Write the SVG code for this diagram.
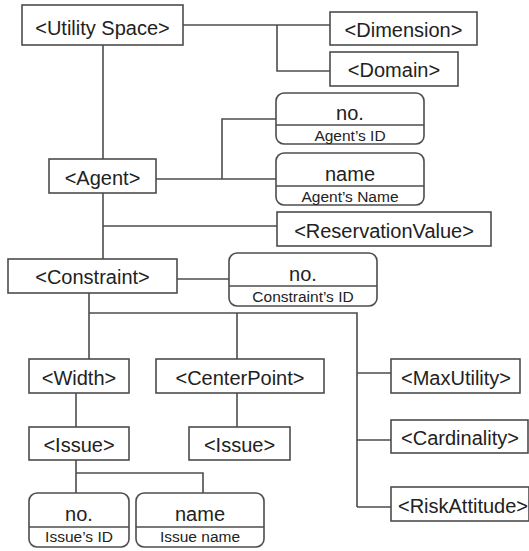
<svg xmlns="http://www.w3.org/2000/svg" width="529" height="551" viewBox="0 0 529 551">
<style>
.box{fill:#fff;stroke:#4d4d4d;stroke-width:1.6}
.ln{fill:none;stroke:#4d4d4d;stroke-width:1.6}
.t{font-family:"Liberation Sans",Arial,sans-serif;font-size:20px;fill:#222;text-anchor:middle}
.s{font-family:"Liberation Sans",Arial,sans-serif;font-size:15.5px;fill:#222;text-anchor:middle}
</style>
<rect width="529" height="551" fill="#fff"/>
<g id="connectors" class="ln">
<path d="M183,25H330M277,25V71H330"/>
<path d="M103,45V159"/>
<path d="M156,179H277M222,179V119H277"/>
<path d="M103,193V259M103,226H277"/>
<path d="M177,279H229"/>
<path d="M89,293V359M89,313H357V507M237,313V359M357,373H391M357,440H391M357,507H391"/>
<path d="M76,393V427"/>
<path d="M237,393V427"/>
<path d="M76,460V493M76,473H203V493"/>
</g>
<g id="utility-space"><rect class="box" x="22" y="5" width="161" height="40"/><text class="t" x="102.5" y="34.5">&lt;Utility Space&gt;</text></g>
<g id="dimension"><rect class="box" x="330" y="12" width="147" height="33"/><text class="t" x="403.5" y="36.5">&lt;Dimension&gt;</text></g>
<g id="domain"><rect class="box" x="330" y="52" width="128" height="34"/><text class="t" x="394" y="77">&lt;Domain&gt;</text></g>
<g id="agent-id"><rect class="box" x="276" y="93" width="148" height="51" rx="8"/><path class="ln" d="M276,125H424"/><text class="t" x="350" y="120">no.</text><text class="s" x="350" y="141">Agent’s ID</text></g>
<g id="agent-name"><rect class="box" x="276" y="153" width="148" height="52" rx="8"/><path class="ln" d="M276,186H424"/><text class="t" x="350" y="181">name</text><text class="s" x="350" y="201.5">Agent’s Name</text></g>
<g id="agent"><rect class="box" x="49" y="159" width="107" height="34"/><text class="t" x="102.5" y="184.5">&lt;Agent&gt;</text></g>
<g id="reservation-value"><rect class="box" x="277" y="212" width="214" height="34"/><text class="t" x="384" y="237.5">&lt;ReservationValue&gt;</text></g>
<g id="constraint"><rect class="box" x="8" y="259" width="169" height="34"/><text class="t" x="92.5" y="284">&lt;Constraint&gt;</text></g>
<g id="constraint-id"><rect class="box" x="229" y="253" width="148" height="53" rx="8"/><path class="ln" d="M229,286H377"/><text class="t" x="303" y="281">no.</text><text class="s" x="303" y="302">Constraint’s ID</text></g>
<g id="width"><rect class="box" x="29" y="359" width="100" height="34"/><text class="t" x="79" y="384.5">&lt;Width&gt;</text></g>
<g id="centerpoint"><rect class="box" x="156" y="359" width="168" height="34"/><text class="t" x="240" y="384.5">&lt;CenterPoint&gt;</text></g>
<g id="maxutility"><rect class="box" x="391" y="359" width="129" height="34"/><text class="t" x="456" y="384.5">&lt;MaxUtility&gt;</text></g>
<g id="issue-1"><rect class="box" x="29" y="427" width="100" height="33"/><text class="t" x="79" y="452">&lt;Issue&gt;</text></g>
<g id="issue-2"><rect class="box" x="189" y="427" width="101" height="33"/><text class="t" x="239.5" y="452">&lt;Issue&gt;</text></g>
<g id="cardinality"><rect class="box" x="391" y="420" width="137" height="33"/><text class="t" x="460" y="445">&lt;Cardinality&gt;</text></g>
<g id="risk-attitude"><rect class="box" x="391" y="487" width="138" height="34"/><text class="t" x="463" y="512.5">&lt;RiskAttitude&gt;</text></g>
<g id="issue-id"><rect class="box" x="29" y="493" width="100" height="54" rx="8"/><path class="ln" d="M29,527H129"/><text class="t" x="79" y="521">no.</text><text class="s" x="79" y="542">Issue’s ID</text></g>
<g id="issue-name"><rect class="box" x="136" y="493" width="128" height="54" rx="8"/><path class="ln" d="M136,527H264"/><text class="t" x="200" y="521">name</text><text class="s" x="200" y="542">Issue name</text></g>
</svg>
